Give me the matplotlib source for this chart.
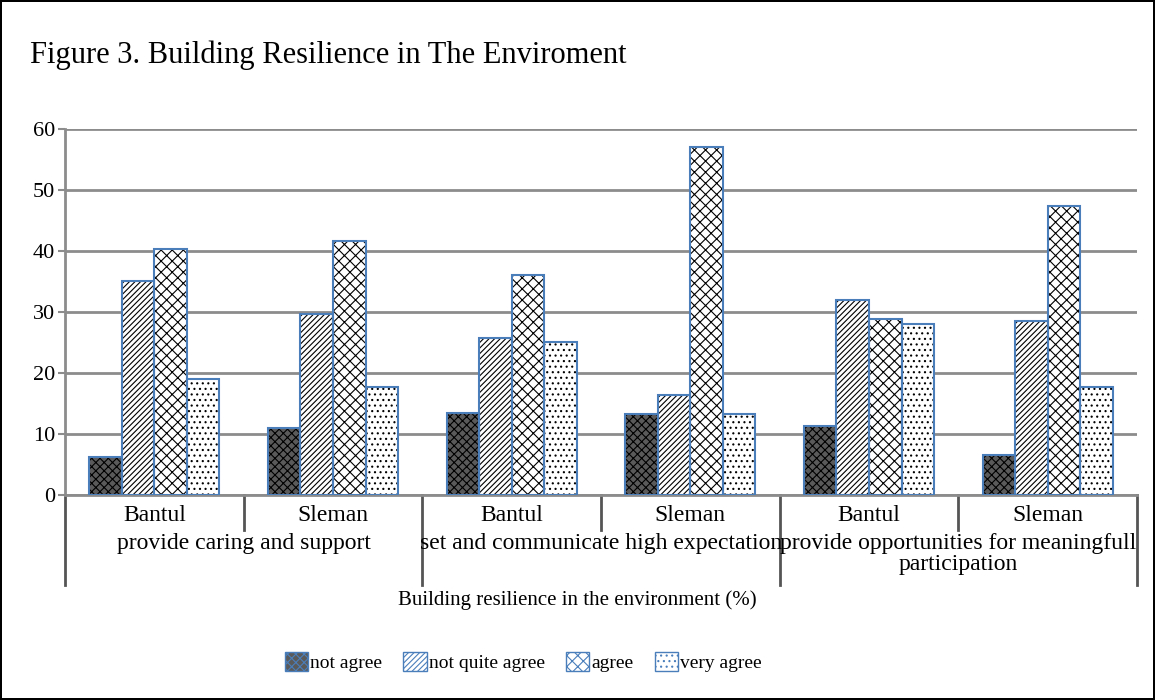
import matplotlib.pyplot as plt
from matplotlib.patches import Patch
from matplotlib.transforms import blended_transform_factory
import numpy as np

plt.rcParams['font.family'] = ['Liberation Serif', 'DejaVu Serif']
plt.rcParams['hatch.linewidth'] = 0.8

# Data (percent)
regions = ["Bantul", "Sleman", "Bantul", "Sleman", "Bantul", "Sleman"]
aspects = ["provide caring and support",
           "set and communicate high expectation",
           "provide opportunities for meaningfull\nparticipation"]
series = ["not agree", "not quite agree", "agree", "very agree"]
not_agree = [6.2, 11.0, 13.4, 13.2, 11.3, 6.6]
not_quite_agree = [35.1, 29.7, 25.8, 16.4, 31.9, 28.5]
agree = [40.3, 41.6, 36.0, 57.1, 28.8, 47.3]
very_agree = [19.0, 17.7, 25.0, 13.2, 28.0, 17.7]
values = [not_agree, not_quite_agree, agree, very_agree]

# styles
faces = ['#5a5a5a', 'white', 'white', 'white']
hatches = ['xxxx', '//////', 'xxx', '...']
edge_blue = '#4a7ebb'

fig = plt.figure(figsize=(11.55, 7), dpi=100)
fig.patch.set_edgecolor('black')
fig.patch.set_linewidth(1.5)
ax = fig.add_axes([0.0563, 0.2929, 0.9281, 0.5229])

x = np.arange(len(regions))
w = 0.182
for i, vals in enumerate(values):
    pos = x + (i - 1.5) * w
    ax.bar(pos, vals, w, color=faces[i], hatch=hatches[i], edgecolor='black',
           linewidth=0, zorder=3)
    ax.bar(pos, vals, w, fill=False, edgecolor=edge_blue, linewidth=1.5, zorder=4)

ax.set_xlim(-0.5, 5.5)
ax.set_ylim(0, 60)
ax.set_yticks(range(0, 61, 10))
ax.yaxis.grid(True, color='#8c8c8c', linewidth=2)
ax.set_axisbelow(True)
ax.tick_params(axis='y', labelsize=16, length=5, color='#8c8c8c', width=1.5, pad=2)
ax.set_xticks([])
for s in ['top', 'right']:
    ax.spines[s].set_visible(False)
for s in ['left', 'bottom']:
    ax.spines[s].set_color('#8c8c8c')
    ax.spines[s].set_linewidth(2)

# multi-level category axis
tr = blended_transform_factory(ax.transData, ax.transAxes)
for b in np.arange(-0.5, 6, 1):
    long_line = int(round(b + 0.5)) % 2 == 0
    y1 = -0.246 if long_line else -0.096
    ax.plot([b, b], [0, y1], color='#555555', linewidth=2, transform=tr, clip_on=False)
for i, r in enumerate(regions):
    ax.text(i, -0.055, r, transform=tr, ha='center', va='center', fontsize=17)
for j, a in enumerate(aspects):
    ax.text(2 * j + 0.5, -0.104, a, transform=tr, ha='center', va='top',
            fontsize=17, linespacing=1.0)

fig.text(0.5, 1 - 600 / 700, "Building resilience in the environment (%)",
         ha='center', va='center', fontsize=15)
fig.text(0.026, 1 - 55 / 700, "Figure 3. Building Resilience in The Enviroment",
         ha='left', va='center', fontsize=22)

handles = [Patch(facecolor=faces[i], hatch=hatches[i], edgecolor=edge_blue, linewidth=1)
           for i in range(4)]
fig.legend(handles, series, loc='center', bbox_to_anchor=(0.453, 1 - 662 / 700), ncol=4,
           frameon=False, fontsize=14, handlelength=1.2, handleheight=1.1,
           handletextpad=0.1, columnspacing=1.1)

fig.savefig("out.png", dpi=100)
